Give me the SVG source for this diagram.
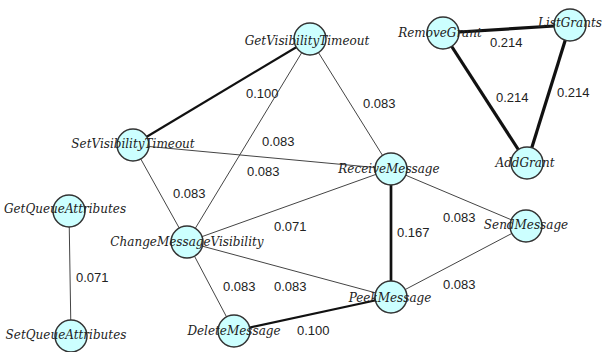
<svg xmlns="http://www.w3.org/2000/svg" width="602" height="352" viewBox="0 0 602 352">
<style>
.e{stroke:#444;stroke-width:1;fill:none}
.e2{stroke:#111;stroke-width:2.2;fill:none}
.e3{stroke:#111;stroke-width:2.7;fill:none}
.e4{stroke:#111;stroke-width:3.2;fill:none}
.w{font-family:"Liberation Sans",Arial,sans-serif;font-size:13px;fill:#222}
.n circle{fill:#ccffff;stroke:#333;stroke-width:1.5}
.n text{font-family:"DejaVu Serif","Liberation Serif",serif;font-style:italic;font-size:12px;fill:#222;text-anchor:middle}
</style>
<rect width="602" height="352" fill="#fff"/>
<g id="edges">
<line class="e2" x1="310" y1="39" x2="133" y2="145"/>
<line class="e" x1="310" y1="39" x2="187" y2="242"/>
<line class="e" x1="310" y1="39" x2="391" y2="169"/>
<line class="e" x1="133" y1="145" x2="391" y2="169"/>
<line class="e" x1="133" y1="145" x2="187" y2="242"/>
<line class="e" x1="187" y1="242" x2="391" y2="169"/>
<line class="e" x1="187" y1="242" x2="391" y2="297"/>
<line class="e" x1="187" y1="242" x2="234" y2="331"/>
<line class="e2" x1="234" y1="331" x2="391" y2="297"/>
<line class="e3" x1="391" y1="169" x2="391" y2="297"/>
<line class="e" x1="391" y1="169" x2="526" y2="226"/>
<line class="e" x1="526" y1="226" x2="391" y2="297"/>
<line class="e" x1="69" y1="211" x2="71" y2="336"/>
<line class="e4" x1="443" y1="33" x2="570" y2="25"/>
<line class="e4" x1="443" y1="33" x2="527" y2="163"/>
<line class="e4" x1="570" y1="25" x2="527" y2="163"/>
</g>
<g id="weights">
<text class="w" x="246" y="98">0.100</text>
<text class="w" x="363" y="108">0.083</text>
<text class="w" x="262" y="146">0.083</text>
<text class="w" x="247" y="176">0.083</text>
<text class="w" x="173" y="198">0.083</text>
<text class="w" x="274" y="231">0.071</text>
<text class="w" x="76" y="282">0.071</text>
<text class="w" x="443" y="222">0.083</text>
<text class="w" x="397" y="237">0.167</text>
<text class="w" x="443" y="289">0.083</text>
<text class="w" x="223" y="291">0.083</text>
<text class="w" x="274" y="291">0.083</text>
<text class="w" x="297" y="335">0.100</text>
<text class="w" x="490" y="47">0.214</text>
<text class="w" x="496" y="102">0.214</text>
<text class="w" x="557" y="97">0.214</text>
</g>
<g id="GetVisibilityTimeout" class="n"><circle cx="310" cy="39" r="16"/><text x="307" y="45">GetVisibilityTimeout</text></g>
<g id="RemoveGrant" class="n"><circle cx="443" cy="33" r="16"/><text x="440" y="37">RemoveGrant</text></g>
<g id="ListGrants" class="n"><circle cx="570" cy="25" r="16"/><text x="570" y="27">ListGrants</text></g>
<g id="AddGrant" class="n"><circle cx="527" cy="163" r="16"/><text x="525" y="167">AddGrant</text></g>
<g id="SetVisibilityTimeout" class="n"><circle cx="133" cy="145" r="16"/><text x="133" y="148">SetVisibilityTimeout</text></g>
<g id="ReceiveMessage" class="n"><circle cx="391" cy="169" r="16"/><text x="389" y="173">ReceiveMessage</text></g>
<g id="SendMessage" class="n"><circle cx="526" cy="226" r="16"/><text x="526" y="229">SendMessage</text></g>
<g id="GetQueueAttributes" class="n"><circle cx="69" cy="211" r="16"/><text x="65" y="213">GetQueueAttributes</text></g>
<g id="ChangeMessageVisibility" class="n"><circle cx="187" cy="242" r="16"/><text x="187" y="246">ChangeMessageVisibility</text></g>
<g id="PeekMessage" class="n"><circle cx="391" cy="297" r="16"/><text x="390" y="302">PeekMessage</text></g>
<g id="DeleteMessage" class="n"><circle cx="234" cy="331" r="16"/><text x="234" y="335">DeleteMessage</text></g>
<g id="SetQueueAttributes" class="n"><circle cx="71" cy="336" r="16"/><text x="66" y="339">SetQueueAttributes</text></g>
</svg>
